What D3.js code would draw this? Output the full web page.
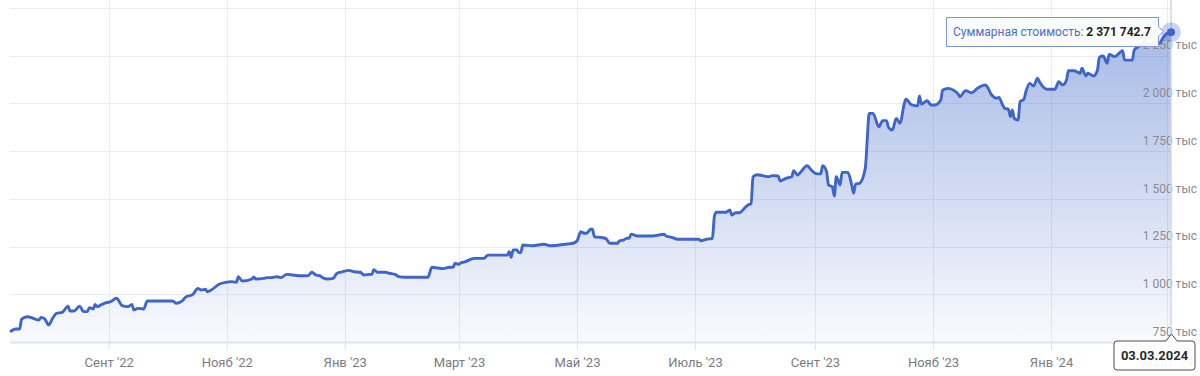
<!DOCTYPE html>
<html>
<head>
<meta charset="utf-8">
<script src="https://cdn.jsdelivr.net/npm/d3@7"></script>
<style>
  body { margin: 0; background: #fff; }
  svg { display: block; font-family: Roboto, "Helvetica Neue", Arial, sans-serif; }
</style>
</head>
<body>
<svg id="chart" width="1200" height="376"></svg>
<script>
// dates of the portfolio points
const dates = [
  "2022-07-12","2022-07-15","2022-07-17","2022-07-18","2022-07-21","2022-07-24","2022-07-27","2022-07-28","2022-07-30",
  "2022-08-01","2022-08-03","2022-08-05","2022-08-08","2022-08-11","2022-08-12","2022-08-14","2022-08-17","2022-08-19",
  "2022-08-21","2022-08-22","2022-08-24","2022-08-25","2022-08-26","2022-08-28","2022-08-30",
  "2022-09-02","2022-09-05","2022-09-08","2022-09-11","2022-09-13","2022-09-14","2022-09-16","2022-09-19","2022-09-21",
  "2022-10-04","2022-10-06","2022-10-09","2022-10-11","2022-10-14","2022-10-15","2022-10-17","2022-10-19","2022-10-21",
  "2022-10-22","2022-10-24","2022-10-28",
  "2022-11-01","2022-11-03","2022-11-06","2022-11-07","2022-11-09","2022-11-14","2022-11-15","2022-11-16","2022-11-20",
  "2022-11-22","2022-11-24","2022-11-27","2022-11-29",
  "2022-12-02","2022-12-05","2022-12-08","2022-12-13","2022-12-15","2022-12-17","2022-12-19","2022-12-21","2022-12-23",
  "2022-12-26","2022-12-28","2022-12-31",
  "2023-01-03","2023-01-06","2023-01-09","2023-01-11","2023-01-14","2023-01-15","2023-01-16","2023-01-18","2023-01-22",
  "2023-01-24","2023-01-27","2023-01-29",
  "2023-02-01","2023-02-13","2023-02-15","2023-02-21","2023-02-24","2023-02-26","2023-02-27",
  "2023-03-01","2023-03-02","2023-03-04","2023-03-07","2023-03-09","2023-03-14","2023-03-16","2023-03-26","2023-03-27",
  "2023-03-28","2023-03-29","2023-03-31",
  "2023-04-01","2023-04-02","2023-04-03","2023-04-08","2023-04-14","2023-04-17","2023-04-26","2023-04-29",
  "2023-05-01","2023-05-03","2023-05-04","2023-05-06","2023-05-08","2023-05-09","2023-05-10","2023-05-13","2023-05-16",
  "2023-05-18","2023-05-22","2023-05-23","2023-05-25","2023-05-27","2023-05-28","2023-05-29",
  "2023-06-01","2023-06-05","2023-06-09","2023-06-15","2023-06-16","2023-06-19","2023-06-22","2023-06-30",
  "2023-07-03","2023-07-04","2023-07-07","2023-07-10","2023-07-11","2023-07-12","2023-07-17","2023-07-19","2023-07-20",
  "2023-07-22","2023-07-24","2023-07-27","2023-07-29","2023-07-30","2023-07-31",
  "2023-08-02","2023-08-05","2023-08-08","2023-08-10","2023-08-13","2023-08-14","2023-08-17","2023-08-20","2023-08-21",
  "2023-08-23","2023-08-24","2023-08-28","2023-08-30",
  "2023-09-02","2023-09-04","2023-09-05","2023-09-07","2023-09-08","2023-09-10","2023-09-11","2023-09-12","2023-09-14",
  "2023-09-15","2023-09-18","2023-09-20","2023-09-21","2023-09-22","2023-09-24","2023-09-27","2023-09-28","2023-09-29",
  "2023-10-01","2023-10-04","2023-10-06","2023-10-08","2023-10-09","2023-10-11","2023-10-13","2023-10-15","2023-10-17",
  "2023-10-18","2023-10-21","2023-10-24","2023-10-25","2023-10-26","2023-10-29","2023-10-31",
  "2023-11-02","2023-11-05","2023-11-06","2023-11-09","2023-11-12","2023-11-14","2023-11-15","2023-11-17","2023-11-18",
  "2023-11-21","2023-11-24","2023-11-28","2023-11-29",
  "2023-12-01","2023-12-04","2023-12-05","2023-12-07","2023-12-08","2023-12-10","2023-12-11","2023-12-12","2023-12-13",
  "2023-12-15","2023-12-16","2023-12-18","2023-12-19","2023-12-21","2023-12-23","2023-12-25","2023-12-26","2023-12-30",
  "2024-01-03","2024-01-05","2024-01-07","2024-01-09","2024-01-10","2024-01-13","2024-01-16","2024-01-17","2024-01-19",
  "2024-01-20","2024-01-23","2024-01-25","2024-01-26","2024-01-28","2024-01-30","2024-01-31",
  "2024-02-03","2024-02-06","2024-02-07","2024-02-08","2024-02-12","2024-02-13","2024-02-15","2024-02-19","2024-02-26",
  "2024-02-28","2024-03-01","2024-03-03"
];

// total value, thousands of rubles
const values = [
  803,818,818,870,882,874,865,879,870,
  839,874,900,905,938,912,912,938,909,
  909,930,923,947,935,944,953,
  961,979,940,935,947,918,926,923,965,
  965,953,965,987,996,1005,1031,1022,1026,
  1013,1022,1052,
  1063,1066,1063,1092,1069,1080,1090,1080,1083,
  1087,1087,1092,1087,
  1104,1101,1097,1097,1115,1101,1097,1084,1080,
  1083,1110,1118,
  1125,1118,1115,1101,1104,1104,1129,1115,1115,
  1110,1104,1092,
  1089,1089,1141,1134,1141,1141,1162,
  1157,1165,1169,1183,1188,1188,1205,1205,1223,
  1193,1232,1232,
  1218,1218,1258,1254,1262,1254,1263,1267,
  1279,1327,1322,1319,1340,1340,1301,1298,1291,
  1267,1267,1280,1284,1294,1293,1315,
  1305,1305,1305,1314,1305,1298,1288,1288,
  1288,1280,1288,1293,1406,1429,1429,1441,1415,
  1427,1427,1455,1471,1473,1615,
  1626,1621,1615,1621,1619,1593,1607,1615,1647,
  1624,1633,1673,1651,
  1630,1630,1673,1642,1572,1563,1514,1615,1572,
  1638,1638,1572,1529,1577,1581,1659,1808,1947,
  1947,1877,1909,1909,1874,1860,1921,1895,1991,
  2021,1991,1986,2038,1996,2013,1991,
  1991,2017,2069,2078,2066,2048,2034,2060,2066,
  2055,2078,2096,2087,
  2048,2026,2031,1991,1974,1968,1930,1965,1921,
  1912,2008,2021,2060,2104,2090,2131,2113,2073,
  2073,2113,2096,2122,2170,2170,2157,2183,2143,
  2157,2143,2174,2241,2247,2209,2256,
  2244,2270,2275,2226,2226,2279,2296,2315,2314,
  2345,2366,2371.7427
];

const yTicks = [750, 1000, 1250, 1500, 1750, 2000, 2250];
const xTickDates = ["2022-09-01","2022-11-01","2023-01-01","2023-03-01","2023-05-01","2023-07-01",
                    "2023-09-01","2023-11-01","2024-01-01","2024-03-01"];
const xTickLabels = ["Сент '22","Нояб '22","Янв '23","Март '23","Май '23","Июль '23",
                     "Сент '23","Нояб '23","Янв '24","Март '24"];
const seriesName = "Суммарная стоимость";
const hoverLabel = "03.03.2024";

const parse = d3.utcParse("%Y-%m-%d");
const data = dates.map((d, i) => ({ date: parse(d), value: values[i] }));
const last = data[data.length - 1];

const svg = d3.select("#chart");
const plotLeft = 10, plotRight = 1171, plotBottom = 342;

const x = d3.scaleUtc()
  .domain(d3.extent(data, d => d.date))
  .range([plotLeft, plotRight]);
const y = d3.scaleLinear()
  .domain([750, 2250])
  .range([plotBottom, 55.5]);

const lineColor = "#3d66c8";

// gradient for the area
const defs = svg.append("defs");
const grad = defs.append("linearGradient")
  .attr("id", "areaGrad")
  .attr("gradientUnits", "userSpaceOnUse")
  .attr("x1", 0).attr("x2", 0)
  .attr("y1", y(2371)).attr("y2", plotBottom);
grad.append("stop").attr("offset", 0).attr("stop-color", lineColor).attr("stop-opacity", 0.45);
grad.append("stop").attr("offset", 1).attr("stop-color", lineColor).attr("stop-opacity", 0.03);

// horizontal grid
svg.append("g").selectAll("line")
  .data(yTicks.concat([2500]))
  .enter().append("line")
  .attr("x1", plotLeft).attr("x2", plotRight + 1)
  .attr("y1", d => Math.round(y(d)) + 0.5)
  .attr("y2", d => Math.round(y(d)) + 0.5)
  .attr("stroke", "#ececf0");

// vertical grid
const tickDates = xTickDates.map(parse);
svg.append("g").selectAll("line")
  .data(tickDates)
  .enter().append("line")
  .attr("x1", d => Math.round(x(d)) + 0.5)
  .attr("x2", d => Math.round(x(d)) + 0.5)
  .attr("y1", 0).attr("y2", plotBottom)
  .attr("stroke", "#ebecf2");

// area + line
const area = d3.area()
  .x(d => x(d.date))
  .y0(plotBottom)
  .y1(d => y(d.value))
  .curve(d3.curveMonotoneX);
const line = d3.line()
  .x(d => x(d.date))
  .y(d => y(d.value))
  .curve(d3.curveMonotoneX);

svg.append("path")
  .datum(data)
  .attr("d", area)
  .attr("fill", "url(#areaGrad)");

// y labels
const ruFmt = d3.formatLocale({ decimal: ".", thousands: "\u00a0", grouping: [3], currency: ["", ""] });
const fmtInt = ruFmt.format(",d");
const fmtVal = ruFmt.format(",.1f");

const yAxis = d3.axisLeft(y)
  .tickValues(yTicks)
  .tickSize(0)
  .tickFormat(d => fmtInt(d) + " тыс");
const gy = svg.append("g")
  .attr("transform", "translate(1197,0)")
  .call(yAxis);
gy.select(".domain").remove();
gy.selectAll("text")
  .attr("x", 0)
  .attr("dy", "-0.55em")
  .attr("fill", "#8b8b8f")
  .attr("font-size", 12)
  .attr("font-family", "Roboto, Arial, sans-serif");

// crosshair
svg.append("line")
  .attr("x1", x(last.date)).attr("x2", x(last.date))
  .attr("y1", 0).attr("y2", plotBottom)
  .attr("stroke", "#cfd6ec")
  .attr("stroke-width", 1.5);

svg.append("path")
  .datum(data)
  .attr("d", line)
  .attr("fill", "none")
  .attr("stroke", lineColor)
  .attr("stroke-width", 2.9)
  .attr("stroke-linejoin", "round");

// x axis
const xAxis = d3.axisBottom(x)
  .tickValues(tickDates)
  .tickSize(8)
  .tickPadding(8)
  .tickFormat((d, i) => xTickLabels[i]);
const gx = svg.append("g")
  .attr("transform", `translate(0,${plotBottom})`)
  .call(xAxis);
gx.select(".domain")
  .attr("d", `M${plotLeft},0.5H${plotRight + 1}`)
  .attr("stroke", "#dde2f1")
  .attr("stroke-width", 2);
gx.selectAll(".tick line").attr("stroke", "#dfe3f0");
gx.selectAll(".tick text")
  .attr("fill", "#7c7c80")
  .attr("font-size", 13)
  .attr("font-family", "Roboto, Arial, sans-serif");

// hovered point
const px = x(last.date), py = y(last.value);
svg.append("circle")
  .attr("cx", px).attr("cy", py).attr("r", 10)
  .attr("fill", lineColor).attr("fill-opacity", 0.28);
svg.append("circle")
  .attr("cx", px).attr("cy", py).attr("r", 4)
  .attr("fill", lineColor);

// tooltip
const tipL = 946, tipR = 1158, tipT = 17, tipB = 46, tipM = (tipT + tipB) / 2;
svg.append("path")
  .attr("d", `M${tipL + 0.5},${tipT + 0.5}H${tipR + 0.5}V${tipM - 5}L${tipR + 5.5},${tipM}L${tipR + 0.5},${tipM + 5}V${tipB + 0.5}H${tipL + 0.5}Z`)
  .attr("fill", "#fbfcfe")
  .attr("fill-opacity", 0.96)
  .attr("stroke", "#7d97d8");
const tipText = svg.append("text")
  .attr("x", tipL + 7)
  .attr("y", tipM + 4.5)
  .attr("font-size", 12);
tipText.append("tspan").attr("fill", "#4a6fc9").text(seriesName + ": ");
tipText.append("tspan").attr("fill", "#222").attr("font-weight", "bold")
  .text(fmtVal(last.value * 1000).replace(/\u00a0/g, " "));

// date label under axis
const bL = 1114, bR = 1195, bT = 341, bB = 370;
svg.append("path")
  .attr("d", `M${bL + 3},${bT}H${px - 5}L${px + 0.5},${bT - 7}L${px + 6},${bT}H${bR - 3}Q${bR},${bT} ${bR},${bT + 3}V${bB - 3}Q${bR},${bB} ${bR - 3},${bB}H${bL + 3}Q${bL},${bB} ${bL},${bB - 3}V${bT + 3}Q${bL},${bT} ${bL + 3},${bT}Z`)
  .attr("fill", "#fff")
  .attr("fill-opacity", 0.93)
  .attr("stroke", "#4d4d4d");
svg.append("text")
  .attr("x", (bL + bR) / 2)
  .attr("y", 360)
  .attr("text-anchor", "middle")
  .attr("font-size", 13)
  .attr("font-weight", "bold")
  .attr("fill", "#2b2b2b")
  .text(hoverLabel);
</script>
</body>
</html>
